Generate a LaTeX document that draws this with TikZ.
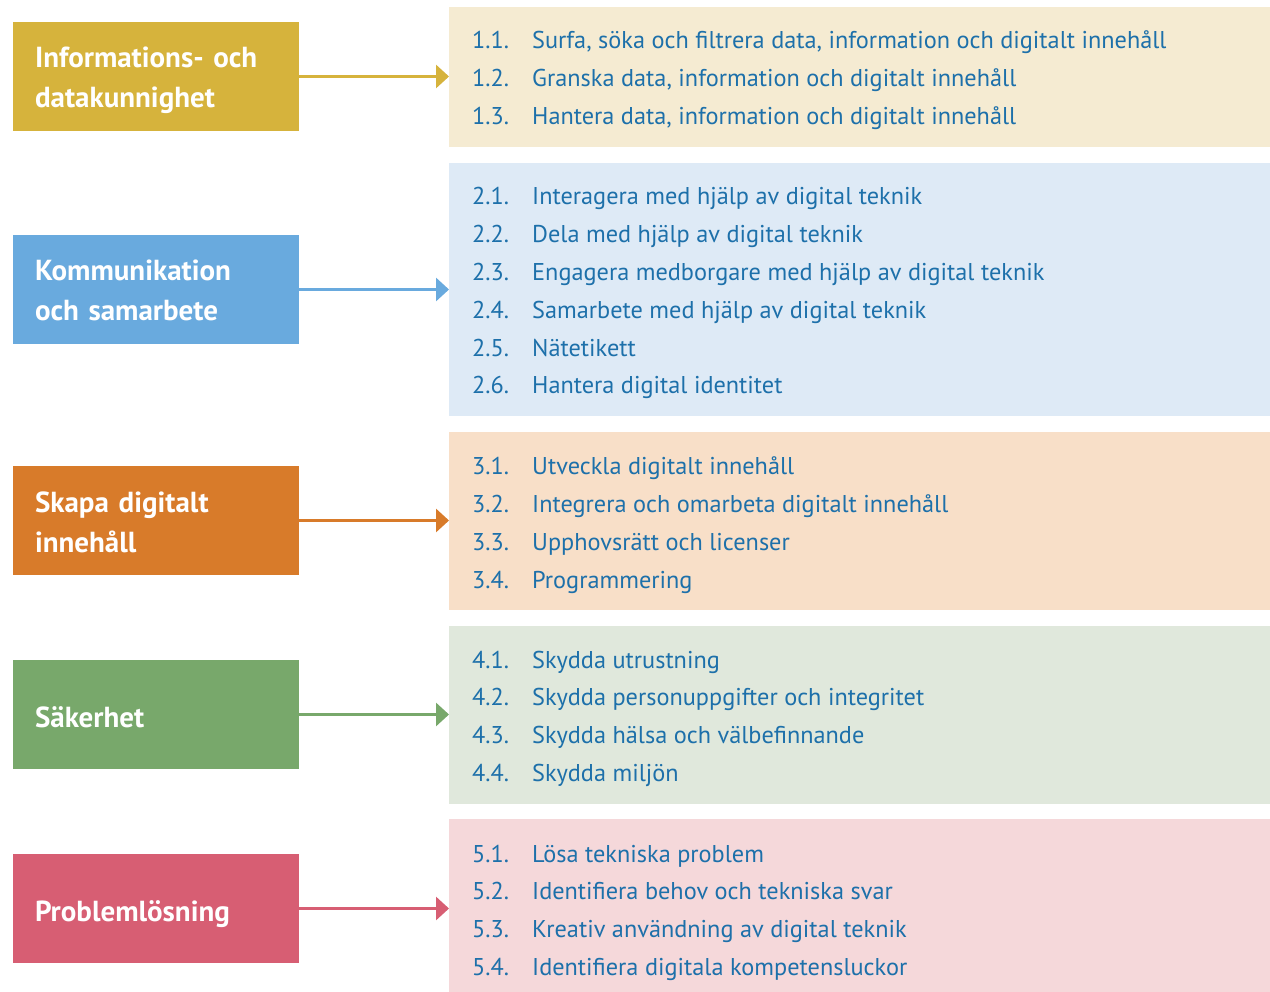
\documentclass[tikz,border=0pt]{standalone}
\usepackage{fontspec}
\setmainfont{PT Sans}
\usetikzlibrary{arrows.meta}
\definecolor{cgold}{HTML}{D6B33C}
\definecolor{cgoldbg}{HTML}{F5EBD2}
\definecolor{cblue}{HTML}{69AADE}
\definecolor{cbluebg}{HTML}{DEEAF6}
\definecolor{corange}{HTML}{D87B2A}
\definecolor{corangebg}{HTML}{F8DFC8}
\definecolor{cgreen}{HTML}{78A86B}
\definecolor{cgreenbg}{HTML}{E0E8DC}
\definecolor{cpink}{HTML}{D75E73}
\definecolor{cpinkbg}{HTML}{F5D8DA}
\definecolor{ctxt}{HTML}{1D70AA}
\newcommand\panelitems[3]{%
  \foreach \t [count=\i] in {#3} {%
    \node[itemtext] (i#1-\i) at (472,{#2+(\i-1)*37.8}) {\makebox[60pt][l]{#1.\i.}\t};
  }%
}
\newcommand\topstrut[1]{\rule{0pt}{#1}}
\newcommand\botstrut{\rule[-7pt]{0pt}{7pt}}
\begin{document}
\begin{tikzpicture}[x=1pt,y=-1pt,
  catbox/.style={fill=#1, text=white, minimum width=286pt, minimum height=109pt,
    inner sep=0pt, outer sep=0pt, text width=242pt, align=left, anchor=north west,
    font=\bfseries\fontsize{29}{40}\selectfont},
  panel/.style={fill=#1, minimum width=821pt, inner sep=0pt, outer sep=0pt, anchor=north west},
  itemtext/.style={text=ctxt, anchor=base west, inner sep=0pt, font=\fontsize{24.3}{28}\selectfont},
  conn/.style={draw=#1, line width=3pt, -{Triangle[length=13pt,width=23pt]}}
]
\useasboundingbox (0,0) rectangle (1270,992);
% category boxes
\node[catbox=cgold]   (c1) at (13,22)  {\topstrut{30pt}Informations- och\\datakunnighet\botstrut};
\node[catbox=cblue]   (c2) at (13,235) {\topstrut{30pt}Kommunikation\\och samarbete\botstrut};
\node[catbox=corange] (c3) at (13,466) {\topstrut{30pt}Skapa digitalt\\innehåll\botstrut};
\node[catbox=cgreen]  (c4) at (13,660) {\topstrut{32pt}Säkerhet\botstrut};
\node[catbox=cpink]   (c5) at (13,854) {\topstrut{32pt}Problemlösning\botstrut};
% panels
\node[panel=cgoldbg,   minimum height=140pt] (p1) at (449,7) {};
\node[panel=cbluebg,   minimum height=253pt] (p2) at (449,163) {};
\node[panel=corangebg, minimum height=178pt] (p3) at (449,432) {};
\node[panel=cgreenbg,  minimum height=178pt] (p4) at (449,626) {};
\node[panel=cpinkbg,   minimum height=173pt] (p5) at (449,819) {};
% connectors
\draw[conn=cgold]   (c1.east) -- (c1.east -| p1.west);
\draw[conn=cblue]   (c2.east) -- (c2.east -| p2.west);
\draw[conn=corange] (c3.east) -- (c3.east -| p3.west);
\draw[conn=cgreen]  (c4.east) -- (c4.east -| p4.west);
\draw[conn=cpink]   (c5.east) -- (c5.east -| p5.west);
% items
\panelitems{1}{49}{{Surfa, söka och filtrera data, information och digitalt innehåll},{Granska data, information och digitalt innehåll},{Hantera data, information och digitalt innehåll}}
\panelitems{2}{205}{{Interagera med hjälp av digital teknik},{Dela med hjälp av digital teknik},{Engagera medborgare med hjälp av digital teknik},{Samarbete med hjälp av digital teknik},{Nätetikett},{Hantera digital identitet}}
\panelitems{3}{475}{{Utveckla digitalt innehåll},{Integrera och omarbeta digitalt innehåll},{Upphovsrätt och licenser},{Programmering}}
\panelitems{4}{668}{{Skydda utrustning},{Skydda personuppgifter och integritet},{Skydda hälsa och välbefinnande},{Skydda miljön}}
\panelitems{5}{862}{{Lösa tekniska problem},{Identifiera behov och tekniska svar},{Kreativ användning av digital teknik},{Identifiera digitala kompetensluckor}}
\end{tikzpicture}
\end{document}
